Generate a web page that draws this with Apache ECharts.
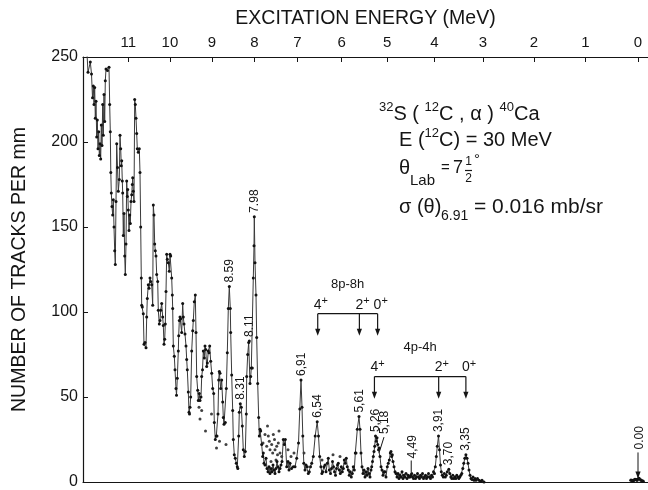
<!DOCTYPE html>
<html>
<head>
<meta charset="utf-8">
<script src="https://cdn.jsdelivr.net/npm/echarts@6/dist/echarts.min.js"></script>
<style>
  html, body { margin: 0; padding: 0; background: #fff; }
  #chart { width: 648px; height: 490px; }
</style>
</head>
<body>
<div id="chart"></div>
<script>
// Focal-plane calibration: excitation energy (MeV) against distance along the plate (mm)
const calibEnergy = [0, 1, 2, 3, 4, 5, 6, 7, 8, 9, 10, 11];
const calibPlateMm = [555, 502.4, 451, 399.9, 351.3, 304.2, 258.6, 214.4, 171.3, 128.9, 86.9, 45.2];
const energyTickLabels = ['0', '1', '2', '3', '4', '5', '6', '7', '8', '9', '10', '11'];
const countTicks = [0, 50, 100, 150, 200, 250];

// Alpha-particle spectrum: [distance along plate (mm), tracks per mm]
const spectrum = [
  [4,252],[5,241],[7.3,247],[8.5,240],[9.5,226],[10.3,233],[11,222],[11.7,232],[12.3,214],[13,224],
  [13.7,203],[14.3,213],[15,196],[15.7,206],[16.3,192],[17,199],[17.7,190],[18.3,210],[19,198],[19.7,222],
  [20.3,204],[21,228],[21.7,212],[22.3,236],[23,243],[24.5,242],[26,244],[26.7,222],[27.3,206],[27.8,182],
  [28.3,170],[29,162],[29.7,157],[30.3,166],[31,150],[31.7,136],[32.3,128],[33,165],[33.7,199],[34.5,185],
  [35.3,171],[36.3,178],[37,204],[37.7,196],[38.3,186],[38.7,189],[39.3,177],[39.7,170],[40.3,145],[41,158],
  [41.7,133],[42.3,122],[43,140],[43.7,177],[44.3,168],[44.7,172],[45.3,160],[46,148],[46.7,157],[47.3,152],
  [48,165],[48.7,169],[49.3,175],[49.7,179],[50.3,171],[51,165],[51.7,225],[52.3,222],[53,214],[53.7,205],
  [54.3,196],[55.3,194],[56.3,196],[57,182],[57.7,150],[58.3,120],[58.7,104],[59.3,103],[60.3,99],[61,81],
  [62,82],[63,79],[63.7,97],[64.3,108],[65.3,116],[66,114],[67,120],[67.7,118],[68.7,116],[69.7,104],
  [70.3,163],[71,157],[71.7,140],[72.3,136],[73,133],[73.7,122],[74.7,118],[75.3,101],[76.3,93],[77,95],
  [77.7,101],[78.7,105],[79.7,97],[80.3,92],[81,81],[81.7,84],[82.3,93],[83,112],[83.7,134],[84.3,131],
  [85.3,129],[86.3,124],[87,134],[87.7,133],[88.7,120],[89.3,110],[89.7,102],[90.3,80],[91.3,74],[92,66],
  [93,55],[93.5,51],[94.3,61],[95.3,77],[95.7,86],[96.3,95],[97,97],[97.7,96],[98.7,88],[99.7,105],
  [100.3,97],[101,93],[102,87],[103,80],[103.7,72],[104.3,66],[105.3,53],[106,41],[106.5,40],[107,44],
  [107.7,50],[108.7,77],[109.7,89],[110.3,95],[111.3,106],[112.3,110],[113,88],[113.7,62],[114.7,54],[115.3,48],
  [116.3,52],[117,48],[118,50],[118.7,62],[119.5,66],[120.3,77],[121.3,73],[122,80],[122.7,78],[123.7,68],
  [124.3,70],[125.3,77],[126,76],[126.7,80],[127.7,71],[128.7,64],[129.7,55],[130.7,52],[131.3,35],[132.3,25],
  [133.3,27],[134,27],[135,40],[135.7,60],[136.3,65],[137,64],[137.7,55],[138.7,60],[139.7,47],[140.3,38],
  [141,34],[142.3,35],[143.3,55],[144.3,76],[145.3,102],[146.3,115],[147.3,102],[147.7,88],[148.7,63],[149.7,42],
  [150.3,25],[151.3,16],[152.3,14],[153.3,11],[154.3,9],[154.8,8],[155.7,27],[156.3,41],[157.3,46],[158.3,44],
  [159.3,33],[160.3,19],[161.3,15],[162.3,18],[163.3,40],[163.7,62],[164.7,75],[165.7,82],[166.3,83],[167,58],
  [167.7,62],[168.3,67],[169.3,67],[170.3,120],[171,139],[171.3,156],[172,129],[173,110],[173.7,85],[174.7,58],
  [175.7,38],[176.3,27],[177,31],[177.7,30],[178.7,22],[179.7,15],[180.3,17],[181,11],[182,10],[183,14],
  [184,8],[185,6],[186,9],[187,5],[188,8],[189,6],[190,10],[191,7],[192,5],[193,8],
  [194,12],[195,9],[196,6],[197,8],[198,10],[199,12],[200.3,25],[201.3,22],[202.3,25],[203.7,9],
  [205,12],[206,7],[207,11],[208.5,8],[210.3,9],[212,9],[213.7,14],[215.5,23],[216.8,43],[218,60],
  [219,44],[219.8,27],[220.8,11],[222,7],[223,10],[224.3,9],[225.3,5],[226.3,6],[227.5,9],[228.7,11],
  [230.3,15],[232.2,27],[234.2,35.5],[235.5,27],[236.7,15],[237.9,9],[238.9,5],[239.7,6],[241,9],[242,10],
  [243,6],[244.3,11],[245.3,14],[246.3,7],[247.5,5],[248.5,8],[249.5,12],[250.5,9],[251.5,6],[252.5,4],
  [253.5,8],[254.5,10],[255.3,11],[256.3,7],[257.3,5],[258.3,9],[259.3,6],[260.3,8],[261.3,13],[262.3,11],
  [263.3,14],[264.3,9],[265.3,7],[266.3,4],[267.3,6],[268.3,3],[269.3,5],[270.3,9],[271.3,7],[272.3,17],
  [273,17],[274.3,31],[276,38.5],[277,31],[278,17],[279,9],[280,5],[281,7],[282,3],[283,6],
  [284,4],[285,8],[286,5],[287,3],[288,7],[288.7,9],[289.5,12],[290.3,15],[291,18],[291.7,21],
  [292.5,27],[293.3,24],[294,26],[294.7,22],[295.5,19],[296.3,20],[297,15],[298,9],[299,7],[300,4],
  [301,6],[302,6],[303,3],[304.3,9],[305.3,11],[306.3,13],[307.3,17],[308,18],[308.7,15],[309.3,16],
  [310,12],[311,9],[312,6],[313,5],[314,3],[315,5],[316,2],[317,4],[318,3],[319,6],
  [320,2],[321,4],[322,3],[323,5],[324,2],[325,4],[326,3],[327,3],[328,4],[328.7,5],
  [329.5,3],[330.5,2],[331.5,4],[332.5,2],[333.5,3],[334.5,5],[335.5,3],[336.5,2],[337.5,4],[338.5,3],
  [339.5,5],[340.5,2],[341.5,3],[342.5,4],[343.5,2],[344.5,3],[345.5,5],[346.5,3],[347.5,2],[348.5,4],
  [349.5,3],[350.5,6],[351.5,5],[352.3,9],[353.3,15],[354.3,21],[355.5,27],[356.5,19],[357.5,10],[358.3,6],
  [359.3,4],[360.3,3],[361.3,5],[362.3,3],[363.3,4],[364.3,6],[365.8,7.5],[366.8,5],[367.8,3],[368.8,2],
  [369.8,4],[370.8,2],[371.8,3],[372.8,2],[373.8,4],[374.8,3],[375.8,2],[376.8,3],[377.8,4],[378.8,5],
  [379.8,8],[380.8,11],[381.8,14],[382.9,16],[384,14],[385,11],[386,7],[387,4],[388,2],[389,1.5],
  [390,3],[391,1],[392,2],[393,1],[394.5,2],[396,1],[397.5,0.5],[399,1],[401,0]
];

// Isolated counts plotted without a connecting line
const strayPoints = [
  [116,44],[117,37],[118.7,42],[122.5,30],[128.5,40],[133.5,20],[136.5,24],[143,22],
  [180,23],[182,28],[183.7,21],[184.5,33],[185.3,27],[186.3,24],[187,19],[188,12],[188.7,22],
  [189.7,17],[190.3,28],[191.5,25],[192,19],[193,13],[193.7,21],[194.5,16],[195.3,23],[196,30],
  [197,17],[198.7,15],[205,19],[208,15],[211,17],[221,17],[239,13],[250,16],[257,15]
];

// Counts around the ground state
const groundState = [[548,1],[550,0.5],[552,1.5],[554,1],[556,2],[558,1],[560,0.5]];

// Labelled levels (MeV)
const peakEnergies = [7.98, 8.59, 8.11, 8.31, 6.91, 6.54, 5.61, 5.26, 3.91, 3.70, 3.35];
const peakTexts = ['7.98', '8.59', '8.11', '8.31', '6,91', '6,54', '5,61', '5,26', '3,91', '3,70', '3,35'];

// Rotational band members (MeV) and their spins
const band8p8h = [6.54, 5.61, 5.21];
const band4p4h = [5.28, 3.91, 3.35];
const bandSpins = ['4', '2', '0'];

const FONT = "'Liberation Sans', Arial, sans-serif";
const INK = '#151515';

function plateOf(e) {
  for (let i = 0; i < calibEnergy.length - 1; i++) {
    if (e >= calibEnergy[i] && e <= calibEnergy[i + 1]) {
      const t = (e - calibEnergy[i]) / (calibEnergy[i + 1] - calibEnergy[i]);
      return calibPlateMm[i] + t * (calibPlateMm[i + 1] - calibPlateMm[i]);
    }
  }
  return calibPlateMm[calibPlateMm.length - 1];
}

function localMax(mm, half) {
  let best = 0;
  for (const [x, c] of spectrum) if (Math.abs(x - mm) <= half && c > best) best = c;
  return best;
}

const chart = echarts.init(document.getElementById('chart'), null, { renderer: 'canvas' });

chart.setOption({
  animation: false,
  backgroundColor: '#ffffff',
  grid: { left: 83, right: 0, top: 57, bottom: 4 },
  xAxis: [
    {
      type: 'value', min: 0, max: 565, position: 'bottom',
      axisLine: { show: true, lineStyle: { color: INK, width: 1.2 } },
      axisTick: { show: false }, axisLabel: { show: false }, splitLine: { show: false }
    },
    {
      type: 'value', min: 0, max: 565, position: 'top',
      name: 'EXCITATION ENERGY (MeV)', nameLocation: 'middle', nameGap: 28, nameMoveOverlap: false,
      nameTextStyle: { fontFamily: FONT, fontSize: 19.5, color: INK },
      axisLine: { show: true, lineStyle: { color: INK, width: 1.2 } },
      axisTick: { show: true, inside: true, length: 5, customValues: calibPlateMm, lineStyle: { color: INK, width: 1 } },
      axisLabel: {
        show: true, customValues: calibPlateMm, margin: 7,
        fontFamily: FONT, fontSize: 15, color: INK,
        formatter: function (v) {
          const i = calibPlateMm.findIndex(p => Math.abs(p - v) < 1e-6);
          return i >= 0 ? energyTickLabels[i] : '';
        }
      },
      splitLine: { show: false }
    }
  ],
  yAxis: {
    type: 'value', min: countTicks[0], max: countTicks[countTicks.length - 1], interval: 50,
    name: 'NUMBER OF TRACKS PER mm', nameLocation: 'middle', nameGap: 53, nameRotate: 90,
    nameTextStyle: { fontFamily: FONT, fontSize: 19.5, color: INK },
    axisLine: { show: true, lineStyle: { color: INK, width: 1.2 } },
    axisTick: { show: true, inside: true, length: 5, lineStyle: { color: INK } },
    axisLabel: { fontFamily: FONT, fontSize: 16, color: INK, margin: 5 },
    splitLine: { show: false }
  },
  series: [
    {
      type: 'line', data: spectrum, xAxisIndex: 0, yAxisIndex: 0,
      symbol: 'circle', symbolSize: 3, showSymbol: true, showAllSymbol: true,
      lineStyle: { color: '#3a3a3a', width: 1 },
      itemStyle: { color: '#111' }, clip: true, silent: true
    },
    {
      type: 'scatter', data: strayPoints, symbol: 'circle', symbolSize: 3,
      itemStyle: { color: '#111' }, silent: true
    },
    {
      type: 'line', data: groundState, symbol: 'circle', symbolSize: 3.5, showAllSymbol: true,
      lineStyle: { color: '#111', width: 2 }, itemStyle: { color: '#111' }, silent: true
    }
  ]
});

function toPx(mm, c) { return chart.convertToPixel({ xAxisIndex: 0, yAxisIndex: 0 }, [mm, c]); }

const g = [];
function addText(x, y, text, size, align, valign, rot) {
  g.push({
    type: 'text', x: x, y: y, rotation: rot || 0, silent: true,
    style: {
      text: text, font: size + 'px ' + FONT, fill: INK,
      align: align, verticalAlign: valign, textAlign: align, textVerticalAlign: valign
    }
  });
}
function addLine(points, w) {
  g.push({ type: 'polyline', silent: true, shape: { points: points },
    style: { stroke: INK, lineWidth: w || 1.2, fill: null } });
}
function addArrowHead(x, y) {
  g.push({ type: 'polygon', silent: true,
    shape: { points: [[x - 2.6, y - 7], [x + 2.6, y - 7], [x, y]] }, style: { fill: INK } });
}

// Level energies written above the peaks
peakEnergies.forEach(function (e, i) {
  const mm = plateOf(e);
  const p = toPx(mm, localMax(mm, 2.5));
  addText(p[0], p[1] - 4, peakTexts[i], 12, 'left', 'middle', Math.PI / 2);
});

// 5.18 with a leader into the 5.26 group
(function () {
  const p = toPx(plateOf(5.18), 17);
  addLine([[p[0], p[1]], [p[0] + 5, p[1] - 16]], 1);
  addText(p[0] + 6, p[1] - 19, '5,18', 12, 'left', 'middle', Math.PI / 2);
})();

// 4.49 with a short marker line
(function () {
  const p = toPx(plateOf(4.49), 5);
  addLine([[p[0], p[1] - 1.5], [p[0], p[1] - 13]], 1);
  addText(p[0] + 1.5, p[1] - 15, '4,49', 12, 'left', 'middle', Math.PI / 2);
})();

// Ground state arrow
(function () {
  const p = toPx(plateOf(0), 1.5);
  addLine([[p[0], p[1] - 2], [p[0], p[1] - 27]], 1);
  addArrowHead(p[0], p[1] - 1);
  addText(p[0] + 1.5, p[1] - 30, '0.00', 12, 'left', 'middle', Math.PI / 2);
})();

// Band brackets with spin labels
function drawBand(energies, level, tipLevel, title) {
  const pts = energies.map(e => toPx(plateOf(e), level));
  const tipY = toPx(0, tipLevel)[1];
  const y = pts[0][1];
  addLine([[pts[0][0], y], [pts[pts.length - 1][0], y]], 1.2);
  pts.forEach(function (p, i) {
    addLine([[p[0], y], [p[0], tipY - 4]], 1.2);
    addArrowHead(p[0], tipY);
    g.push({
      type: 'text', x: p[0] - 4, y: y - 10, silent: true,
      style: {
        text: '{d|' + bandSpins[i] + '}{s|+}', align: 'left', verticalAlign: 'middle',
        textAlign: 'left', textVerticalAlign: 'middle',
        rich: {
          d: { font: '14px ' + FONT, fill: INK, color: INK, verticalAlign: 'bottom', lineHeight: 16 },
          s: { font: '11px ' + FONT, fill: INK, color: INK, verticalAlign: 'top', lineHeight: 16 }
        }
      }
    });
  });
  const cx = (pts[0][0] + pts[pts.length - 1][0]) / 2;
  addText(cx, y - 29, title, 13, 'center', 'middle');
}
drawBand(band8p8h, 99, 86, '8p-8h');
drawBand(band4p4h, 62, 49, '4p-4h');

// Reaction and kinematics block
const big = { font: '20px ' + FONT, fill: INK, color: INK };
const small = { font: '13px ' + FONT, fill: INK, color: INK };
g.push({
  type: 'text', x: 379, y: 101, silent: true,
  style: {
    text: '{s|32}{n|S ( }{s|12}{n|C , α ) }{s|40}{n|Ca}', align: 'left', verticalAlign: 'top',
    textAlign: 'left', textVerticalAlign: 'top',
    rich: {
      n: Object.assign({ verticalAlign: 'bottom', lineHeight: 23 }, big),
      s: Object.assign({ verticalAlign: 'top', lineHeight: 23 }, small)
    }
  }
});
g.push({
  type: 'text', x: 399, y: 127, silent: true,
  style: {
    text: '{n|E (}{s|12}{n|C) = 30 MeV}', align: 'left', verticalAlign: 'top',
    textAlign: 'left', textVerticalAlign: 'top',
    rich: {
      n: Object.assign({ verticalAlign: 'bottom', lineHeight: 23 }, big),
      s: Object.assign({ verticalAlign: 'top', lineHeight: 23 }, small)
    }
  }
});
// theta line, pieced together for the stacked fraction
addText(399, 168, 'θ', 20, 'left', 'middle');
addText(410, 181, 'Lab', 15, 'left', 'middle');
addText(441, 168, '=', 15, 'left', 'middle');
addText(453, 168, '7', 18, 'left', 'middle');
addText(468.5, 162, '1', 12, 'center', 'middle');
addLine([[465, 170.5], [472, 170.5]], 1.2);
addText(468.5, 179, '2', 12, 'center', 'middle');
addText(474, 160, '°', 15, 'left', 'middle');
// cross-section line
addText(399, 207, 'σ (θ)', 20, 'left', 'middle');
addText(441, 216, '6.91', 14, 'left', 'middle');
addText(474, 207, '= 0.016 mb/sr', 21, 'left', 'middle');

chart.setOption({ graphic: { elements: g } });
</script>
</body>
</html>
